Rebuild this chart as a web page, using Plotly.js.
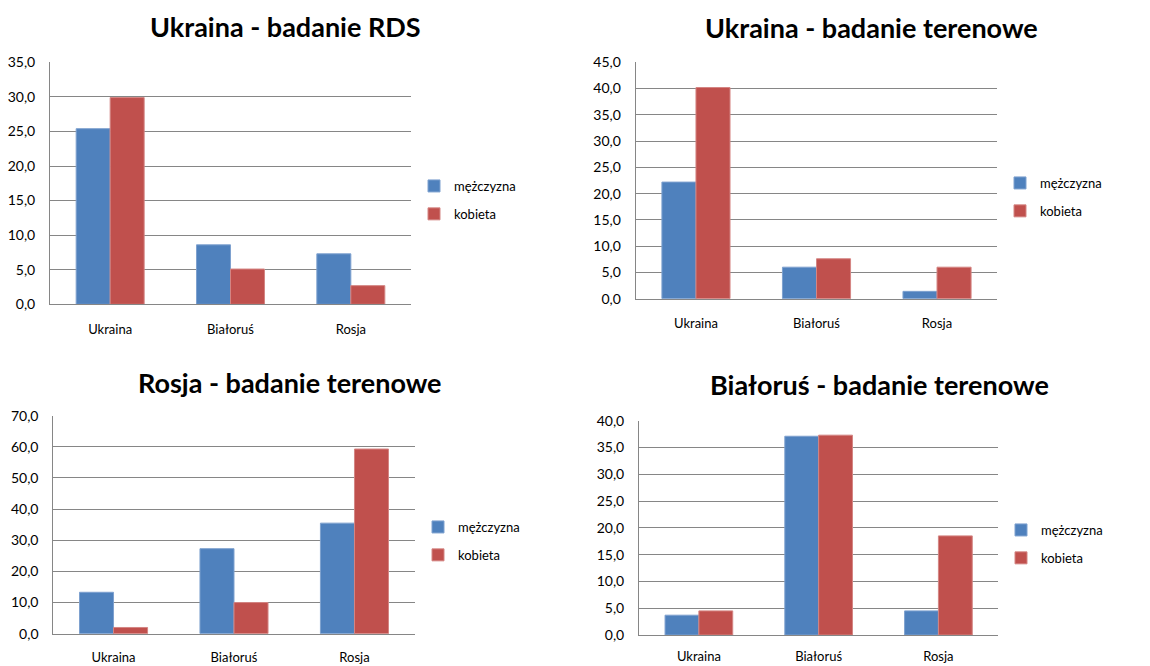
<!DOCTYPE html>
<html>
<head>
<meta charset="utf-8">
<script src="https://cdn.plot.ly/plotly-3.0.1.min.js"></script>
<style>html,body{margin:0;padding:0;background:#fff;}#chart{width:1150px;height:666px;}</style>
</head>
<body>
<div id="chart"></div>
<script>
// ---- data ----
const categories = ["Ukraina", "Białoruś", "Rosja"];
const seriesNames = ["mężczyzna", "kobieta"];
const titles = ["Ukraina - badanie RDS", "Ukraina - badanie terenowe", "Rosja - badanie terenowe", "Białoruś - badanie terenowe"];

const ukrainaRDS_m = [25.4, 8.6, 7.3];
const ukrainaRDS_k = [29.9, 5.1, 2.7];
const ukrainaTeren_m = [22.2, 6.0, 1.4];
const ukrainaTeren_k = [40.2, 7.6, 6.0];
const rosjaTeren_m = [13.3, 27.3, 35.5];
const rosjaTeren_k = [2.0, 10.0, 59.3];
const bialorusTeren_m = [3.7, 37.1, 4.5];
const bialorusTeren_k = [4.5, 37.3, 18.5];

const yMax = [35, 45, 70, 40];
const yStep = [5, 5, 10, 5];

// ---- layout helpers ----
const W = 1150, H = 666;
const colors = ["#4F81BD", "#C0504D"];
const edge = ["#7EA1CF", "#D48583"];
const FONT = "Lato, 'Open Sans', sans-serif";

const panels = [
  {m: ukrainaRDS_m, k: ukrainaRDS_k, x: [50, 411], y: [62.3, 304.3], leg: [414, 200], title: [285, 26], xstand: 13},
  {m: ukrainaTeren_m, k: ukrainaTeren_k, x: [635.7, 997.3], y: [62.3, 298.7], leg: [1000, 197], title: [871, 27.5], xstand: 13},
  {m: rosjaTeren_m, k: rosjaTeren_k, x: [53.3, 414.7], y: [415.7, 633.7], leg: [418, 541], title: [289.5, 382.5], xstand: 12},
  {m: bialorusTeren_m, k: bialorusTeren_k, x: [639, 998.3], y: [420.7, 635], leg: [1001, 544], title: [879, 384], xstand: 9}
];

const data = [];
const layout = {
  width: W, height: H,
  margin: {l: 0, r: 0, t: 0, b: 0},
  paper_bgcolor: "#ffffff",
  plot_bgcolor: "#ffffff",
  barmode: "group",
  bargap: 0.435,
  bargroupgap: 0,
  separators: ",.",
  font: {family: FONT, size: 13, color: "#000"},
  annotations: []
};

panels.forEach((p, i) => {
  const n = i === 0 ? "" : String(i + 1);
  const legName = "legend" + n;
  [p.m, p.k].forEach((vals, s) => {
    data.push({
      type: "bar",
      x: categories,
      y: vals,
      name: seriesNames[s],
      xaxis: "x" + n,
      yaxis: "y" + n,
      legend: legName,
      legendgroup: "g" + i + "_" + s,
      marker: {color: colors[s], line: {color: edge[s], width: 1}},
      hoverinfo: "x+y+name"
    });
  });
  layout["xaxis" + n] = {
    domain: [p.x[0] / W, p.x[1] / W],
    anchor: "y" + n,
    showgrid: false,
    zeroline: false,
    showline: true,
    linecolor: "#868686",
    linewidth: 1,
    ticks: "",
    ticklabelstandoff: p.xstand,
    tickfont: {family: FONT, size: 13, color: "#000"},
    fixedrange: true
  };
  layout["yaxis" + n] = {
    domain: [1 - p.y[1] / H, 1 - p.y[0] / H],
    anchor: "x" + n,
    range: [0, yMax[i]],
    dtick: yStep[i],
    tick0: 0,
    tickformat: ".1f",
    showgrid: true,
    gridcolor: "#868686",
    gridwidth: 1,
    zeroline: false,
    showline: true,
    linecolor: "#868686",
    linewidth: 1,
    ticks: "",
    ticklabelstandoff: 11,
    tickfont: {family: FONT, size: 14, color: "#000"},
    fixedrange: true
  };
  layout[legName] = {
    x: p.leg[0] / W, y: 1 - p.leg[1] / H,
    xanchor: "left", yanchor: "middle",
    xref: "paper", yref: "paper",
    traceorder: "grouped",
    tracegroupgap: 8,
    font: {family: FONT, size: 13, color: "#000"},
    bgcolor: "rgba(0,0,0,0)",
    itemclick: false, itemdoubleclick: false
  };
  layout.annotations.push({
    text: "<b>" + titles[i] + "</b>",
    x: p.title[0] / W, y: 1 - p.title[1] / H,
    xref: "paper", yref: "paper",
    xanchor: "center", yanchor: "middle",
    showarrow: false,
    font: {family: FONT, size: 27, color: "#000"}
  });
});

Plotly.newPlot("chart", data, layout, {displayModeBar: false, staticPlot: true});
</script>
</body>
</html>
